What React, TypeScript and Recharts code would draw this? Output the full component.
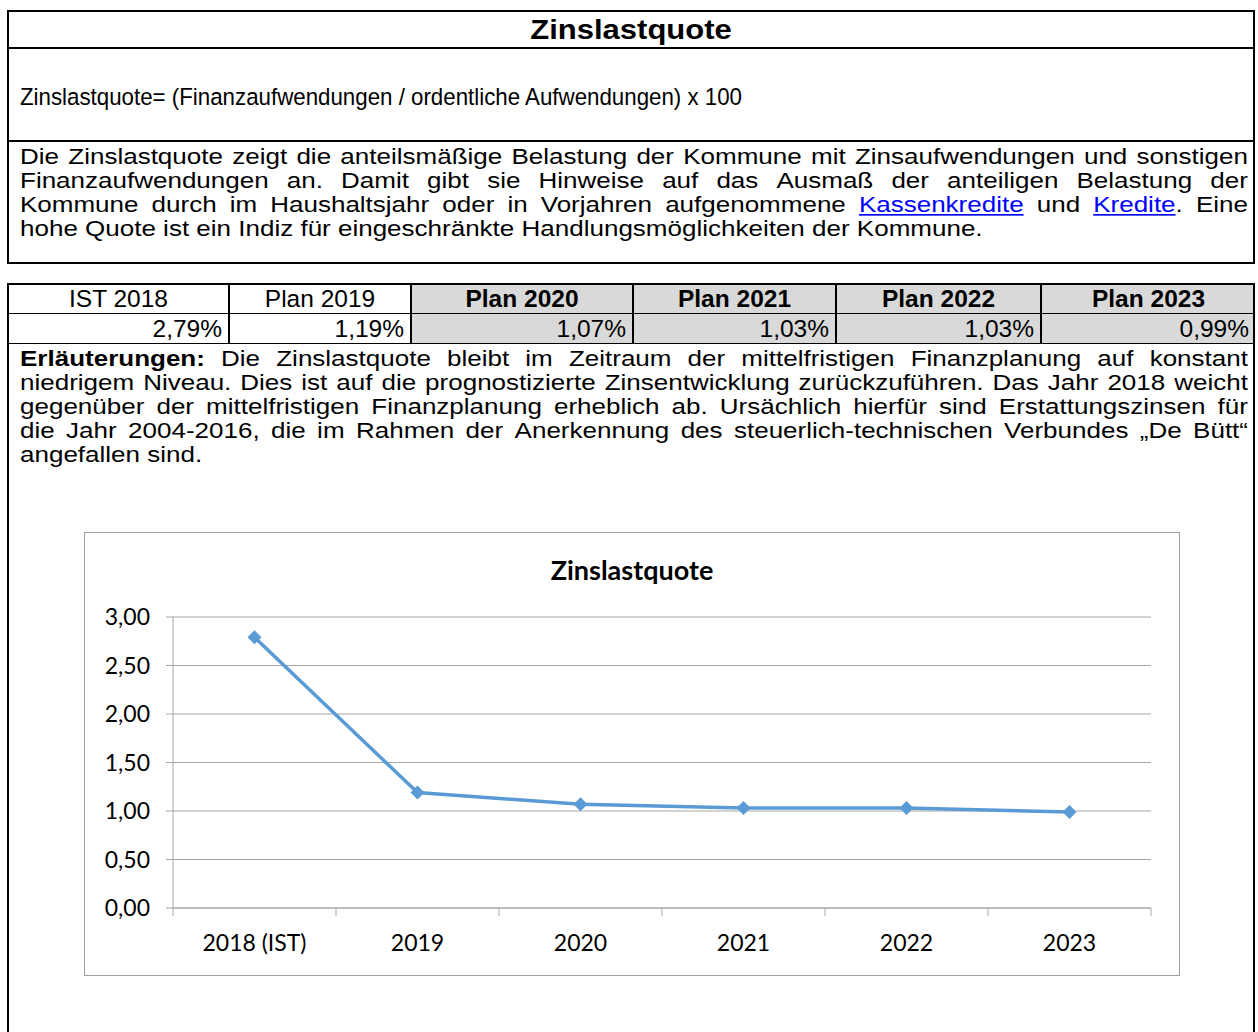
import React from 'react';
import { LineChart, Line, XAxis, YAxis, CartesianGrid } from 'recharts';

// ---------- data ----------
const categories = ['2018 (IST)', '2019', '2020', '2021', '2022', '2023'];
const values = [2.79, 1.19, 1.07, 1.03, 1.03, 0.99];
const yTicks = [0, 0.5, 1, 1.5, 2, 2.5, 3];
const tableHeaders = ['IST 2018', 'Plan 2019', 'Plan 2020', 'Plan 2021', 'Plan 2022', 'Plan 2023'];
const tableBold = [false, false, true, true, true, true];
const tableValues = values.map((v) => v.toFixed(2).replace('.', ',') + '%');

const data = categories.map((c, i) => ({ year: c, value: values[i] }));

// ---------- styles ----------
const BODY_FONT = '"Liberation Sans", Arial, sans-serif';
const CHART_FONT = 'Lato, "Open Sans", sans-serif';
const LINE_COLOR = '#5B9BD5';
const GRID = '#A6A6A6';
const FS = 26;
const LH = 24;
const SQ = 0.82;

const CHART_LEFT = 84;
const CHART_TOP = 532;
const CHART_W = 1096;
const CHART_H = 444;
const M_TOP = 85;
const M_RIGHT = 29;
const Y_W = 89;
const X_H = 68;
const PLOT_W = CHART_W - Y_W - M_RIGHT;
const BAND = PLOT_W / categories.length;

const colEdges = [7, 228, 410, 632, 835, 1040, 1255];

// ---------- text ----------
type Seg = React.ReactNode;
const link = (t: string) => (
  <span style={{ color: '#0000FF', textDecoration: 'underline' }}>{t}</span>
);

const para1: Seg[][] = [
  'Die Zinslastquote zeigt die anteilsmäßige Belastung der Kommune mit Zinsaufwendungen und sonstigen'.split(' '),
  'Finanzaufwendungen an. Damit gibt sie Hinweise auf das Ausmaß der anteiligen Belastung der'.split(' '),
  [
    ...'Kommune durch im Haushaltsjahr oder in Vorjahren aufgenommene'.split(' '),
    link('Kassenkredite'),
    'und',
    <span>{link('Kredite')}.</span>,
    'Eine',
  ],
];
const para1Last = 'hohe Quote ist ein Indiz für eingeschränkte Handlungsmöglichkeiten der Kommune.';

const para2: Seg[][] = [
  [
    <b>Erläuterungen:</b>,
    ...'Die Zinslastquote bleibt im Zeitraum der mittelfristigen Finanzplanung auf konstant'.split(' '),
  ],
  'niedrigem Niveau. Dies ist auf die prognostizierte Zinsentwicklung zurückzuführen. Das Jahr 2018 weicht'.split(' '),
  'gegenüber der mittelfristigen Finanzplanung erheblich ab. Ursächlich hierfür sind Erstattungszinsen für'.split(' '),
  'die Jahr 2004-2016, die im Rahmen der Anerkennung des steuerlich-technischen Verbundes „De Bütt“'.split(' '),
];
const para2Last = 'angefallen sind.';

const lineBox: React.CSSProperties = {
  height: LH,
  lineHeight: LH + 'px',
  whiteSpace: 'nowrap',
  transform: `scaleY(${SQ})`,
  transformOrigin: '50% 50%',
};

function JustLine({ words }: { words: Seg[] }) {
  return (
    <div style={{ ...lineBox, display: 'flex', justifyContent: 'space-between' }}>
      {words.map((w, i) => (
        <span key={i}>{w}</span>
      ))}
    </div>
  );
}

function XTick(props: any) {
  const { x, y, payload, index } = props;
  const half = BAND / 2;
  return (
    <g>
      <line x1={x - half} x2={x - half} y1={y} y2={y + 8} stroke={GRID} strokeWidth={1} />
      {index === categories.length - 1 && (
        <line x1={x + half} x2={x + half} y1={y} y2={y + 8} stroke={GRID} strokeWidth={1} />
      )}
      <text x={x} y={y + 43} textAnchor="middle" fontFamily={CHART_FONT} fontSize={23} fill="#000">
        {payload.value}
      </text>
    </g>
  );
}

function Diamond(props: any) {
  const { cx, cy } = props;
  if (cx == null || cy == null) return null;
  const r = 7;
  return (
    <polygon
      points={`${cx},${cy - r} ${cx + r},${cy} ${cx},${cy + r} ${cx - r},${cy}`}
      fill={LINE_COLOR}
    />
  );
}

export default function App() {
  const hLine = (top: number, w = 2) => (
    <div style={{ position: 'absolute', left: 7, width: 1248, top, height: w, background: '#000' }} />
  );
  return (
    <div
      style={{
        position: 'absolute',
        left: 0,
        top: 0,
        width: 1258,
        height: 1032,
        overflow: 'hidden',
        background: '#fff',
        fontFamily: BODY_FONT,
        fontSize: FS,
        color: '#000',
      }}
    >
      {/* top box */}
      <div
        style={{
          position: 'absolute',
          left: 7,
          top: 10,
          width: 1248,
          height: 254,
          border: '2px solid #000',
          boxSizing: 'border-box',
        }}
      />
      {hLine(47)}
      {hLine(140)}
      <div
        style={{
          position: 'absolute',
          left: 7,
          width: 1248,
          top: 12,
          height: 36,
          lineHeight: '36px',
          textAlign: 'center',
          fontWeight: 'bold',
          fontSize: 31,
          transform: 'scaleY(0.88)',
          transformOrigin: '50% 50%',
        }}
      >
        Zinslastquote
      </div>
      <div
        style={{
          position: 'absolute',
          left: 20,
          top: 85,
          fontSize: 24.5,
          height: LH,
          lineHeight: LH + 'px',
          whiteSpace: 'nowrap',
          transform: 'scaleX(0.91)',
          transformOrigin: '0 50%',
        }}
      >
        Zinslastquote= (Finanzaufwendungen / ordentliche Aufwendungen) x 100
      </div>
      <div style={{ position: 'absolute', left: 20, width: 1228, top: 145 }}>
        {para1.map((l, i) => (
          <JustLine key={i} words={l} />
        ))}
        <div style={lineBox}>{para1Last}</div>
      </div>

      {/* second box */}
      <div
        style={{
          position: 'absolute',
          left: 7,
          top: 283,
          width: 1248,
          height: 900,
          border: '2px solid #000',
          boxSizing: 'border-box',
        }}
      />
      {/* table cells */}
      {tableHeaders.map((h, i) => (
        <React.Fragment key={i}>
          <div
            style={{
              position: 'absolute',
              left: colEdges[i],
              top: 283,
              width: colEdges[i + 1] - colEdges[i],
              height: 31,
              background: tableBold[i] ? '#D9D9D9' : '#fff',
              borderLeft: '2px solid #000',
              borderTop: '2px solid #000',
              borderBottom: '1px solid #000',
              boxSizing: 'border-box',
              textAlign: 'center',
              lineHeight: '28px',
              fontSize: 24.5,
              fontWeight: tableBold[i] ? 'bold' : 'normal',
            }}
          >
            {h}
          </div>
          <div
            style={{
              position: 'absolute',
              left: colEdges[i],
              top: 314,
              width: colEdges[i + 1] - colEdges[i],
              height: 30,
              background: tableBold[i] ? '#D9D9D9' : '#fff',
              borderLeft: '2px solid #000',
              borderBottom: '1px solid #000',
              boxSizing: 'border-box',
              textAlign: 'right',
              paddingRight: 6,
              lineHeight: '29px',
              fontSize: 24.5,
            }}
          >
            {tableValues[i]}
          </div>
        </React.Fragment>
      ))}
      <div style={{ position: 'absolute', left: 1253, top: 283, width: 2, height: 900, background: '#000' }} />
      <div style={{ position: 'absolute', left: 20, width: 1228, top: 347 }}>
        {para2.map((l, i) => (
          <JustLine key={i} words={l} />
        ))}
        <div style={lineBox}>{para2Last}</div>
      </div>

      {/* chart */}
      <div
        style={{
          position: 'absolute',
          left: CHART_LEFT,
          top: CHART_TOP,
          width: CHART_W,
          height: CHART_H,
          border: '1px solid #A0A0A0',
          boxSizing: 'border-box',
          background: '#fff',
        }}
      />
      <div style={{ position: 'absolute', left: CHART_LEFT, top: CHART_TOP }}>
        <LineChart
          width={CHART_W}
          height={CHART_H}
          data={data}
          margin={{ top: M_TOP, right: M_RIGHT, bottom: 0, left: 0 }}
        >
          <CartesianGrid vertical={false} stroke={GRID} strokeWidth={1} />
          <XAxis
            dataKey="year"
            scale="band"
            height={X_H}
            interval={0}
            axisLine={{ stroke: GRID }}
            tickLine={false}
            tickSize={0}
            tickMargin={0}
            tick={<XTick />}
          />
          <YAxis
            domain={[0, 3]}
            ticks={yTicks}
            interval={0}
            width={Y_W}
            axisLine={{ stroke: GRID }}
            tickLine={{ stroke: GRID }}
            tickSize={7}
            tickMargin={16}
            tickFormatter={(v: number) => v.toFixed(2).replace('.', ',')}
            tick={{ fill: '#000', fontSize: 23, fontFamily: CHART_FONT }}
          />
          <Line
            type="linear"
            dataKey="value"
            stroke={LINE_COLOR}
            strokeWidth={3.5}
            dot={<Diamond />}
            activeDot={false}
            isAnimationActive={false}
          />
        </LineChart>
      </div>
      <div
        style={{
          position: 'absolute',
          left: CHART_LEFT,
          width: CHART_W,
          top: CHART_TOP + 23,
          lineHeight: '30px',
          textAlign: 'center',
          fontFamily: CHART_FONT,
          fontWeight: 'bold',
          fontSize: 27,
        }}
      >
        Zinslastquote
      </div>
    </div>
  );
}
